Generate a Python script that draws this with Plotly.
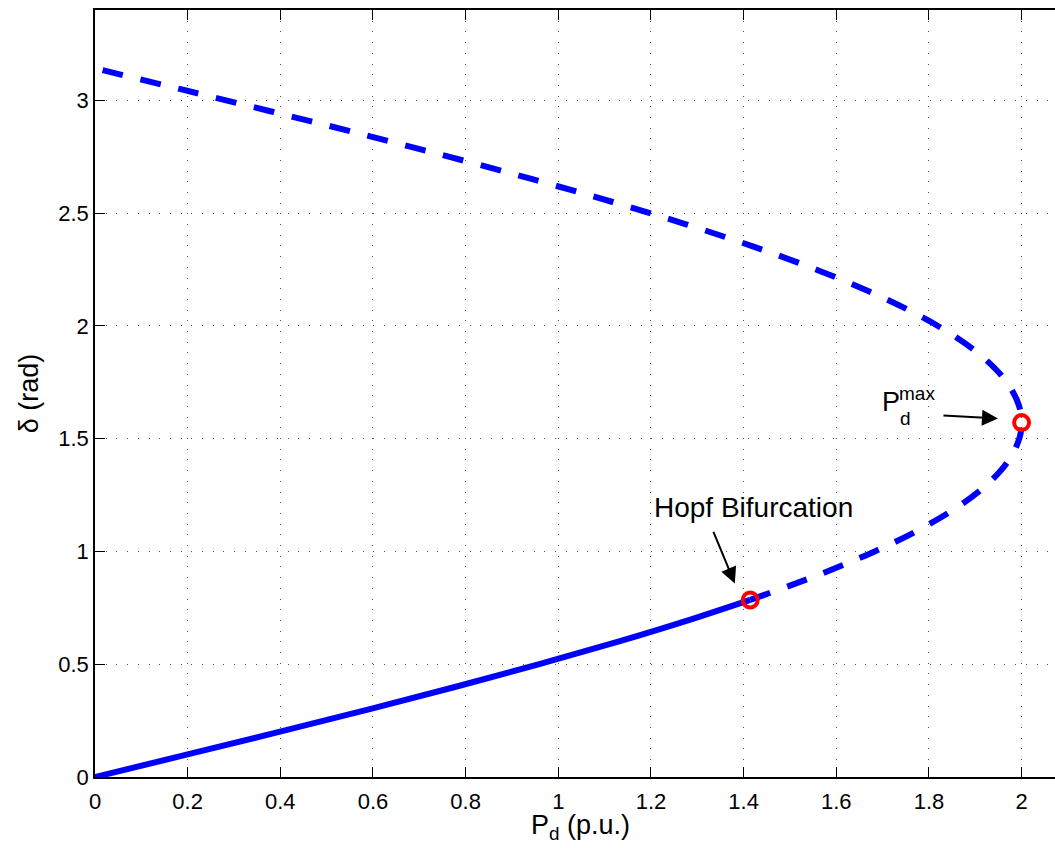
import plotly.graph_objects as go

# Stable branch (solid): P_d (p.u.) vs delta (rad)
stable_P = [0.0, 0.1997, 0.3973, 0.5910, 0.7788, 0.9589, 1.1293, 1.2884, 1.4142]
stable_delta = [0.0, 0.1, 0.2, 0.3, 0.4, 0.5, 0.6, 0.7, 0.785]

# Unstable branch (dashed)
unstable_P = [1.4142, 1.5667, 1.6829, 1.7824, 1.8641, 1.9271, 1.9709, 1.9950, 2.0,
              1.9937, 1.9680, 1.9226, 1.8579, 1.7748, 1.6738, 1.5561, 1.4229,
              1.2755, 1.1154, 0.9441, 0.7633, 0.5750, 0.3808, 0.1829, 0.0]
unstable_delta = [0.785, 0.9, 1.0, 1.1, 1.2, 1.3, 1.4, 1.5, 1.571,
                  1.65, 1.75, 1.85, 1.95, 2.05, 2.15, 2.25, 2.35,
                  2.45, 2.55, 2.65, 2.75, 2.85, 2.95, 3.05, 3.1416]

# Special points
special_P = [1.4142, 2.0]
special_delta = [0.785, 1.571]

x_ticks = [0, 0.2, 0.4, 0.6, 0.8, 1, 1.2, 1.4, 1.6, 1.8, 2]
x_ticklabels = ["0", "0.2", "0.4", "0.6", "0.8", "1", "1.2", "1.4", "1.6", "1.8", "2"]
y_ticks = [0, 0.5, 1, 1.5, 2, 2.5, 3]
y_ticklabels = ["0", "0.5", "1", "1.5", "2", "2.5", "3"]

FONT = "Liberation Sans, Arial, Helvetica, sans-serif"

fig = go.Figure()
fig.add_trace(go.Scatter(x=unstable_P, y=unstable_delta, mode="lines", line_shape="spline",
                         line=dict(color="#0000ff", width=6, dash="21px,18px"), showlegend=False))
fig.add_trace(go.Scatter(x=stable_P, y=stable_delta, mode="lines", line_shape="spline",
                         line=dict(color="#0000ff", width=6), showlegend=False))
fig.add_trace(go.Scatter(x=special_P, y=special_delta, mode="markers",
                         marker=dict(symbol="circle-open", size=15, color="#ff0000",
                                     line=dict(width=4, color="#ff0000")), showlegend=False))

axis_common = dict(
    showline=True, linecolor="black", linewidth=1.5,
    ticks="inside", ticklen=10, tickcolor="black", tickwidth=1,
    showgrid=True, gridcolor="#555555", gridwidth=1, griddash="1px,9.7px",
    zeroline=False, tickfont=dict(family=FONT, size=22, color="black"),
)

fig.update_layout(
    width=1055, height=848,
    margin=dict(l=95, r=0, t=10, b=71),
    plot_bgcolor="white", paper_bgcolor="white",
    font=dict(family=FONT, color="black"),
    xaxis=dict(range=[0, 960 / 463.3], tickvals=x_ticks, ticktext=x_ticklabels,
               mirror="ticks", ticklabelstandoff=4, **axis_common),
    yaxis=dict(range=[0, 3.4], tickvals=y_ticks, ticktext=y_ticklabels,
               ticklabelstandoff=0,
               title=dict(text="δ (rad)", font=dict(family=FONT, size=27), standoff=12),
               **axis_common),
)

# x-axis title placed as annotation (positioned just below tick labels)
fig.add_annotation(x=0.506, y=-0.040, xref="paper", yref="paper", yanchor="top",
                   text="P<sub>d</sub> (p.u.)", showarrow=False,
                   font=dict(family=FONT, size=27, color="black"))

# Annotations
fig.add_annotation(x=1.422, y=1.194, xref="x", yref="y", text="Hopf Bifurcation", showarrow=False,
                   font=dict(family=FONT, size=28, color="black"))
fig.add_annotation(x=1.381, y=0.858, xref="x", yref="y", text="", showarrow=True,
                   ax=-22, ay=-53, arrowhead=2, arrowsize=1.6, arrowwidth=2, arrowcolor="black")
fig.add_annotation(x=1.718, y=1.663, xref="x", yref="y", text="P", showarrow=False,
                   font=dict(family=FONT, size=27, color="black"))
fig.add_annotation(x=1.774, y=1.699, xref="x", yref="y", text="max", showarrow=False,
                   font=dict(family=FONT, size=19, color="black"))
fig.add_annotation(x=1.750, y=1.589, xref="x", yref="y", text="d", showarrow=False,
                   font=dict(family=FONT, size=19, color="black"))
fig.add_annotation(x=1.949, y=1.589, xref="x", yref="y", text="", showarrow=True,
                   ax=-56, ay=-3, arrowhead=2, arrowsize=1.6, arrowwidth=2, arrowcolor="black")

fig.write_html("out.html")
